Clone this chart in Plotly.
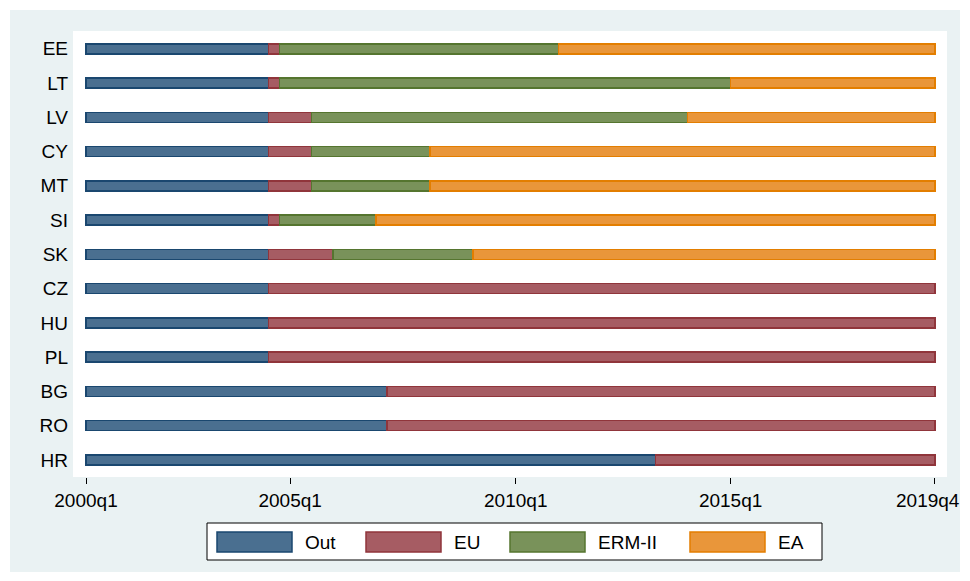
import plotly.graph_objects as go

countries = ["EE", "LT", "LV", "CY", "MT", "SI", "SK", "CZ", "HU", "PL", "BG", "RO", "HR"]
series_names = ["Out", "EU", "ERM-II", "EA"]
# segment lengths in quarters (starting 2000q1)
out_len = [17, 17, 17, 17, 17, 17, 17, 17, 17, 17, 28, 28, 53]
eu_len = [1, 1, 4, 4, 4, 1, 6, 62, 62, 62, 51, 51, 26]
erm_len = [26, 42, 35, 11, 11, 9, 13, None, None, None, None, None, None]
ea_len = [35, 19, 23, 47, 47, 52, 43, None, None, None, None, None, None]
tick_vals = [0, 19, 40, 60, 79]
tick_text = ["2000q1", "2005q1", "2010q1", "2015q1", "2019q4"]

fills = ["#4A6F90", "#A65C63", "#79925A", "#E9963A"]
lines = ["#1A476F", "#90353B", "#55752F", "#E37E00"]
values = [out_len, eu_len, erm_len, ea_len]

OFF = 8  # browser body margin
W, H = 970 - 2 * OFF, 581 - 2 * OFF
L, T = 73 - OFF, 31 - OFF
R = W - (947 - OFF)
B = H - (477 - OFF)
pw, ph = W - L - R, H - T - B


def px(x):
    return (x - OFF - L) / pw


def py(y):
    return (H - B - (y - OFF)) / ph


fig = go.Figure()
for name, vals, fc, lc in zip(series_names, values, fills, lines):
    fig.add_trace(go.Bar(
        y=countries, x=vals, name=name, orientation="h",
        marker=dict(color=fc, line=dict(color=lc, width=1.5)),
        width=0.29, showlegend=False,
    ))

shapes = [
    dict(type="rect", xref="paper", yref="paper", layer="below",
         x0=px(10), x1=px(960), y0=py(572), y1=py(10),
         fillcolor="#EAF2F3", line=dict(width=0)),
    dict(type="rect", xref="paper", yref="paper", layer="below",
         x0=0, x1=1, y0=0, y1=1, fillcolor="white", line=dict(width=0)),
    dict(type="rect", xref="paper", yref="paper",
         x0=px(207), x1=px(822), y0=py(560), y1=py(523),
         fillcolor="white", line=dict(color="black", width=1)),
]
annotations = []
key_x = [217, 366, 510, 690]
for name, kx, fc, lc in zip(series_names, key_x, fills, lines):
    shapes.append(dict(type="rect", xref="paper", yref="paper",
                       x0=px(kx), x1=px(kx + 75), y0=py(552), y1=py(532),
                       fillcolor=fc, line=dict(color=lc, width=1.5)))
    annotations.append(dict(xref="paper", yref="paper", x=px(kx + 86), y=py(542),
                            text=name, showarrow=False, xanchor="left", yanchor="middle",
                            font=dict(size=19, color="black", family="Liberation Sans, Arial")))

# last tick label would overflow the page edge; draw it just inside
axis_text = tick_text[:-1] + [""]
annotations.append(dict(xref="paper", yref="paper", x=px(961.5), y=py(501),
                        text=tick_text[-1], showarrow=False, xanchor="right", yanchor="middle",
                        font=dict(size=19, color="black", family="Liberation Sans, Arial")))

fig.update_layout(
    width=W, height=H,
    margin=dict(l=L, r=R, t=T, b=B),
    barmode="stack",
    paper_bgcolor="white",
    plot_bgcolor="white",
    font=dict(family="Liberation Sans, Arial", size=19, color="black"),
    shapes=shapes,
    annotations=annotations,
    xaxis=dict(range=[-1.21, 80.14], tickvals=tick_vals, ticktext=axis_text,
               showgrid=False, zeroline=False, showline=False,
               ticks="outside", ticklen=6, tickcolor="black", tickwidth=1,
               tickfont=dict(size=19)),
    yaxis=dict(categoryorder="array", categoryarray=countries[::-1],
               range=[-0.5, 12.52], showgrid=False, zeroline=False, showline=False,
               ticks="", ticklabelstandoff=4, tickfont=dict(size=19)),
)

fig.write_html("out.html")
